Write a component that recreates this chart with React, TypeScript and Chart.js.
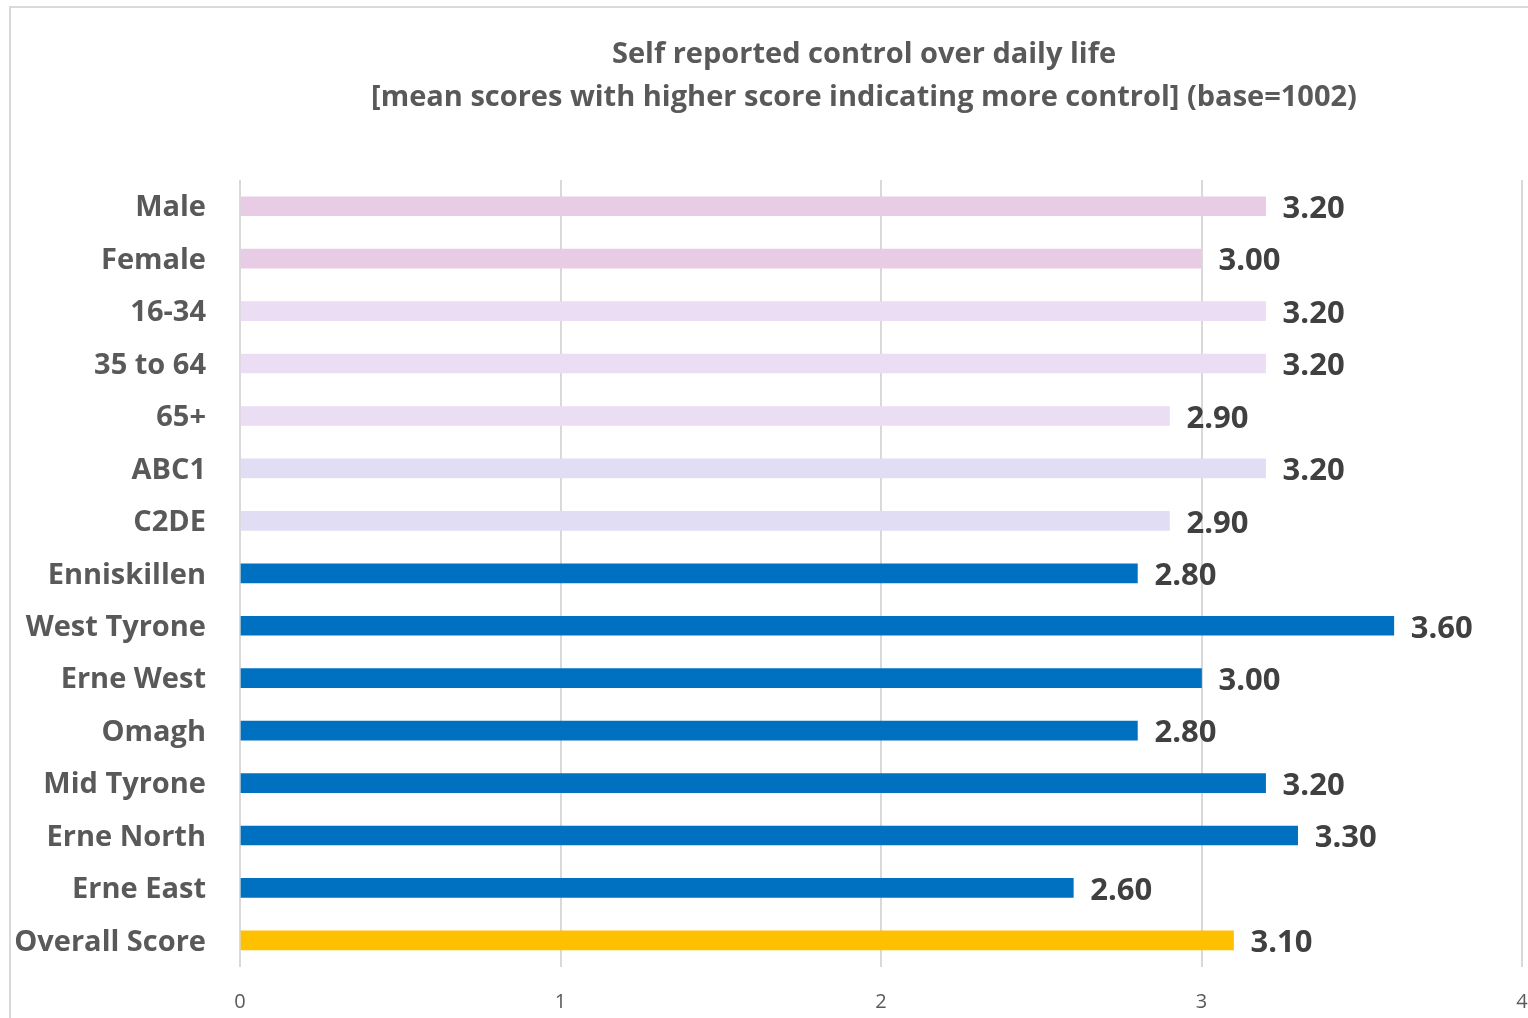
import React, { useEffect, useRef } from "react";
import { Chart, registerables } from "chart.js";

Chart.register(...registerables);

const categories = [
  "Male",
  "Female",
  "16-34",
  "35 to 64",
  "65+",
  "ABC1",
  "C2DE",
  "Enniskillen",
  "West Tyrone",
  "Erne West",
  "Omagh",
  "Mid Tyrone",
  "Erne North",
  "Erne East",
  "Overall Score",
];
const scores = [3.2, 3.0, 3.2, 3.2, 2.9, 3.2, 2.9, 2.8, 3.6, 3.0, 2.8, 3.2, 3.3, 2.6, 3.1];
const xTickValues = [0, 1, 2, 3, 4];
const titleLines = [
  "Self reported control over daily life",
  "[mean scores with higher score indicating more control] (base=1002)",
];
const barColors = [
  "#E8CCE5",
  "#E8CCE5",
  "#EADDF4",
  "#EADDF4",
  "#EADDF4",
  "#E1DDF4",
  "#E1DDF4",
  "#0070C0",
  "#0070C0",
  "#0070C0",
  "#0070C0",
  "#0070C0",
  "#0070C0",
  "#0070C0",
  "#FFC000",
];

const FONT = '"Open Sans", "Noto Sans", sans-serif';

const overlayPlugin = {
  id: "overlay",
  afterDatasetsDraw(chart: any) {
    const ctx = chart.ctx;
    ctx.save();
    // data labels
    const meta = chart.getDatasetMeta(0);
    ctx.font = `bold 31px ${FONT}`;
    ctx.fillStyle = "#404040";
    ctx.textAlign = "left";
    ctx.textBaseline = "middle";
    meta.data.forEach((bar: any, i: number) => {
      ctx.fillText(scores[i].toFixed(2), bar.x + 17, bar.y + 3);
    });
    // title
    ctx.font = `bold 29px ${FONT}`;
    ctx.fillStyle = "#595959";
    ctx.textAlign = "center";
    ctx.fillText(titleLines[0], 864, 55);
    ctx.fillText(titleLines[1], 864, 98);
    ctx.restore();
  },
};

export default function App() {
  const canvasRef = useRef<HTMLCanvasElement | null>(null);

  useEffect(() => {
    if (!canvasRef.current) return;
    const chart = new Chart(canvasRef.current, {
      type: "bar",
      data: {
        labels: categories,
        datasets: [
          {
            data: scores,
            backgroundColor: barColors,
            borderWidth: 0,
            barThickness: 19,
          },
        ],
      },
      options: {
        indexAxis: "y",
        animation: false,
        responsive: true,
        maintainAspectRatio: false,
        layout: { padding: { top: 180, left: 0, right: 6, bottom: 0 } },
        plugins: {
          legend: { display: false },
          title: { display: false },
          tooltip: { enabled: false },
        },
        scales: {
          x: {
            type: "linear",
            min: 0,
            max: 4,
            afterBuildTicks: (s: any) => {
              s.ticks = xTickValues.map((v) => ({ value: v }));
            },
            afterFit: (s: any) => {
              s.height = 51;
              s.paddingLeft = 0;
              s.paddingRight = 0;
            },
            ticks: {
              font: { family: FONT, size: 20 },
              color: "#595959",
              padding: 24,
            },
            grid: { color: "#D9D9D9", lineWidth: 2, drawTicks: false },
            border: { display: false },
          },
          y: {
            afterFit: (s: any) => {
              s.width = 240;
            },
            ticks: {
              font: { family: FONT, size: 29, weight: "bold" },
              color: "#595959",
              padding: 34,
              labelOffset: 2,
            },
            grid: { display: false, drawTicks: false },
            border: { display: false },
          },
        },
      },
      plugins: [overlayPlugin],
    });
    return () => chart.destroy();
  }, []);

  return (
    <div style={{ position: "absolute", left: 0, top: 0, width: 1528, height: 1018, background: "#fff", overflow: "hidden" }}>
      <div
        style={{
          position: "absolute",
          left: 9,
          top: 6,
          width: 1600,
          height: 1100,
          borderTop: "2px solid #D9D9D9",
          borderLeft: "2px solid #D9D9D9",
        }}
      />
      <canvas ref={canvasRef} style={{ position: "absolute", left: 0, top: 0 }} />
    </div>
  );
}
